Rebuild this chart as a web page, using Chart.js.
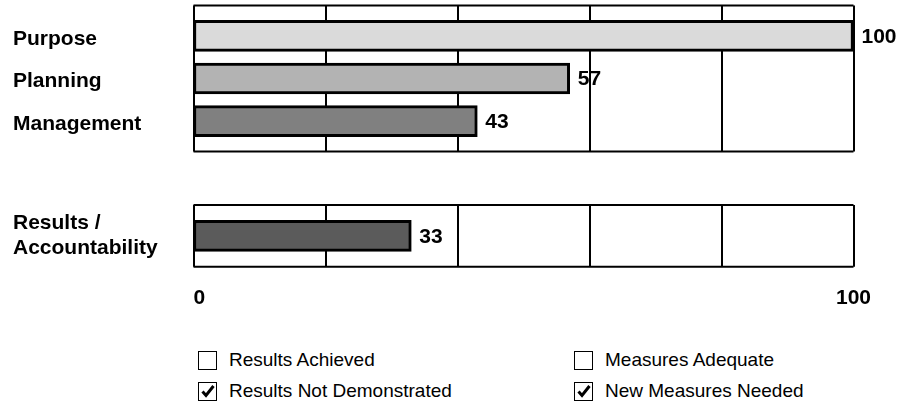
<!DOCTYPE html>
<html>
<head>
<meta charset="utf-8">
<script src="https://cdn.jsdelivr.net/npm/chart.js@4.4.1/dist/chart.umd.min.js"></script>
<style>
  body { margin: 0; background: #fff; width: 905px; height: 409px; position: relative; overflow: hidden;
         font-family: "Liberation Sans", Arial, sans-serif; }
  #topChart { position: absolute; left: 0; top: 0; }
  #bottomChart { position: absolute; left: 0; top: 180px; }
  .item { position: absolute; height: 20px; display: flex; align-items: center; font-size: 19px; color: #000; }
  .box { width: 19px; height: 19px; border: 1.5px solid #000; box-sizing: border-box; margin-right: 12px;
         display: flex; align-items: center; justify-content: center; }
</style>
</head>
<body>
<canvas id="topChart" width="905" height="165"></canvas>
<canvas id="bottomChart" width="905" height="135"></canvas>
<div id="legend"></div>
<script>
// data
const topCategories = ['Purpose', 'Planning', 'Management'];
const topValues = [100, 57, 43];
const bottomCategories = [['Results /', 'Accountability']];
const bottomValues = [33];
const gridTicks = [0, 20, 40, 60, 80, 100];
const axisTickLabels = [0, 100];

const legendLabels = ['Results Achieved', 'Results Not Demonstrated', 'Measures Adequate', 'New Measures Needed'];
const legendChecked = [false, true, false, true];

const topColors = ['#dadada', '#b3b3b3', '#808080'];
const bottomColors = ['#5b5b5b'];
const boldFont = { family: '"Liberation Sans", Arial, sans-serif', size: 21, weight: 'bold', lineHeight: 1.19 };
const labelFont = 'bold 21px "Liberation Sans", Arial, sans-serif';

// frame + grid, drawn behind the bars
const framePlugin = {
    id: 'frame',
    beforeDatasetsDraw(chart, args, opts) {
        const { ctx, chartArea: a, scales: { x } } = chart;
        const pad = opts.pad || 0;
        ctx.save();
        ctx.strokeStyle = '#000';
        ctx.lineWidth = 2;
        gridTicks.forEach(t => {
            const px = Math.round(x.getPixelForValue(t));
            ctx.beginPath();
            ctx.moveTo(px, a.top - pad);
            ctx.lineTo(px, a.bottom + pad);
            ctx.stroke();
        });
        ctx.beginPath();
        ctx.moveTo(a.left, a.top - pad);
        ctx.lineTo(a.right, a.top - pad);
        ctx.moveTo(a.left, a.bottom + pad);
        ctx.lineTo(a.right, a.bottom + pad);
        ctx.stroke();
        ctx.restore();
    }
};

// value labels at the end of each bar
const valueLabels = {
    id: 'valueLabels',
    afterDatasetsDraw(chart) {
        const { ctx } = chart;
        const ds = chart.data.datasets[0];
        ctx.save();
        ctx.font = labelFont;
        ctx.fillStyle = '#000';
        ctx.textBaseline = 'middle';
        ctx.textAlign = 'left';
        chart.getDatasetMeta(0).data.forEach((bar, i) => {
            ctx.fillText(ds.data[i], bar.x + 8, bar.y + 1);
        });
        ctx.restore();
    }
};

// 0 and 100 under the lower panel
const axisLabels = {
    id: 'axisLabels',
    afterDraw(chart, args, opts) {
        if (!opts.show) return;
        const { ctx, chartArea: a, scales: { x } } = chart;
        ctx.save();
        ctx.font = labelFont;
        ctx.fillStyle = '#000';
        ctx.textBaseline = 'middle';
        axisTickLabels.forEach((v, i) => {
            ctx.textAlign = i === 0 ? 'left' : 'center';
            ctx.fillText(String(v), x.getPixelForValue(v), a.bottom + 32);
        });
        ctx.restore();
    }
};

const makeChart = (id, labels, values, colors, padding, framePad, labelOffset, showAxis) => {
    return new Chart(document.getElementById(id), {
        type: 'bar',
        data: {
            labels: labels,
            datasets: [{
                data: values,
                backgroundColor: colors,
                borderColor: '#000',
                borderWidth: 3,
                borderSkipped: false,
                barThickness: 31
            }]
        },
        options: {
            indexAxis: 'y',
            responsive: false,
            animation: false,
            events: [],
            layout: { padding: padding },
            plugins: {
                legend: { display: false },
                tooltip: { enabled: false },
                frame: { pad: framePad },
                axisLabels: { show: showAxis }
            },
            scales: {
                x: { type: 'linear', min: 0, max: 100, display: false },
                y: {
                    type: 'category',
                    offset: true,
                    grid: { display: false, drawTicks: false },
                    border: { display: false },
                    ticks: { font: boldFont, color: '#000', crossAlign: 'far', padding: 0, labelOffset: labelOffset },
                    afterFit: (axis) => { axis.width = 180.5; }
                }
            }
        },
        plugins: [framePlugin, valueLabels, axisLabels]
    });
};

makeChart('topChart', topCategories, topValues, topColors,
    { left: 13, right: 51.5, top: 14.5, bottom: 22.5 }, 9, 3, false);
makeChart('bottomChart', bottomCategories, bottomValues, bottomColors,
    { left: 13, right: 51.5, top: 9, bottom: 48.3 }, 0, 0, true);

// legend with check boxes
const legend = document.getElementById('legend');
const legendX = [198, 198, 574, 574];
const legendY = [350, 381, 350, 381];
legendLabels.forEach((text, i) => {
    const item = document.createElement('div');
    item.className = 'item';
    item.style.left = legendX[i] + 'px';
    item.style.top = legendY[i] + 'px';
    const box = document.createElement('div');
    box.className = 'box';
    if (legendChecked[i]) {
        box.innerHTML = '<svg width="14" height="14" viewBox="0 0 14 14"><path d="M1.5 7.5 L5 11.5 L12.5 2" fill="none" stroke="#000" stroke-width="3"/></svg>';
    }
    item.appendChild(box);
    const span = document.createElement('span');
    span.textContent = text;
    item.appendChild(span);
    legend.appendChild(item);
});
</script>
</body>
</html>
